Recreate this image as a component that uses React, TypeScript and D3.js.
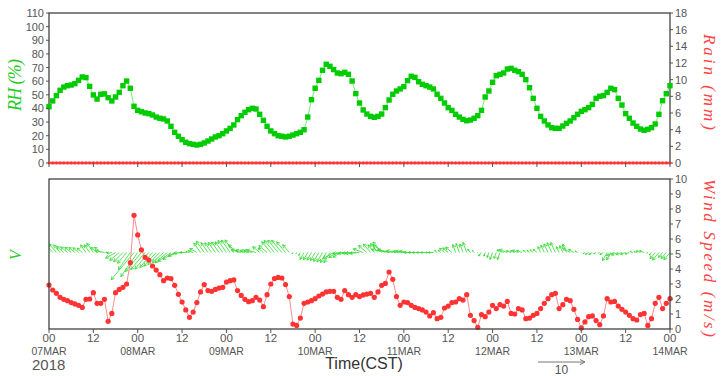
import React from "react";
import * as d3 from "d3";

// ---- data (hourly, 00 07MAR 2018 .. 00 14MAR 2018, CST) ----
const hours: number[] = d3.range(0, 169);

const rh: number[] = [
  41.3, 45.5, 49.4, 53.3, 55.7, 56.7, 57.2, 58.2, 60.6, 63.1, 62.6,
  56.2, 49.9, 46.9, 50.4, 50.7, 47.9, 45.5, 48.4, 51.8, 56.7, 60.1, 54.8,
  41.6, 38.6, 37.6, 36.7, 36.2, 35.2, 33.7, 32.8, 32.3, 30.8, 26.9, 22.5, 19.6,
  17.1, 15.2, 14.2, 13.7, 13.2, 13.7, 14.7, 16.1, 17.6, 19.1, 20.0, 21.5,
  23.5, 25.4, 27.9, 31.8, 34.7, 37.2, 39.1, 40.1, 39.6, 35.7, 31.3, 26.9,
  23.5, 21.5, 20.0, 19.6, 19.1, 19.6, 20.5, 21.5, 22.5, 24.4, 33.7, 46.4,
  54.8, 60.6, 68.0, 72.4, 70.9, 68.5, 66.0, 65.5, 66.5, 65.0, 60.1, 50.9,
  44.0,
  38.9, 35.9, 34.2, 33.5, 34.2, 35.9, 40.6, 46.2, 50.4, 52.8, 54.3, 56.0,
  60.4, 63.6, 62.8, 59.6, 57.7, 56.7, 55.7, 54.3, 50.4, 47.4, 44.0, 40.6,
  38.6, 35.7, 33.7, 32.0, 31.0, 31.5, 32.8, 34.7, 38.6, 48.4, 52.8, 59.2,
  64.0, 65.0, 66.0, 68.9, 69.4, 68.0, 67.0, 65.0, 61.1, 55.2, 47.4, 40.1,
  34.2, 30.8, 27.9, 25.9, 25.4, 25.4, 27.1, 29.1, 30.8, 33.2, 35.7, 37.9,
  39.1, 40.6, 43.0, 47.4, 48.9, 49.4, 51.8, 54.8, 53.8, 47.4, 42.5, 36.2,
  32.8, 29.3, 26.9, 24.9, 24.0, 24.7, 25.9, 28.6, 35.7, 45.7, 50.8, 56.7,
];

const rain: number[] = hours.map(() => 0);

const windSpeed: number[] = [
  2.93, 2.6, 2.38, 2.11, 1.98, 1.89, 1.76, 1.67, 1.58, 1.44, 1.98, 2.0, 2.42, 1.71, 1.71, 1.98, 0.51, 1.04, 2.42, 2.64, 2.78, 3.0,
  4.42, 7.58, 6.27, 5.27, 4.78, 4.6, 4.2, 3.93, 3.62, 3.22, 3.4, 3.36, 2.91, 2.31,
  1.8, 1.27, 0.78, 1.13, 1.76, 2.47, 2.96, 2.56, 2.51, 2.64, 2.73, 2.78,
  3.13, 3.22, 3.27, 2.56, 2.24, 1.98, 1.82, 1.89, 2.11, 1.93, 1.49, 2.29,
  3.0, 3.36, 3.44, 3.4, 2.96, 2.16, 0.33, 0.24, 0.73, 1.71, 1.8, 1.89,
  2.02, 2.2, 2.33, 2.47, 2.51, 2.51, 2.11, 1.98, 2.56, 2.29, 2.11, 2.29,
  2.16, 2.27, 2.33, 2.38, 2.11, 2.47, 2.91, 3.04, 3.8, 3.31, 2.16, 1.58,
  1.8, 1.76, 1.58, 1.44, 1.36, 1.27, 1.13, 0.87, 1.09, 0.69, 0.78, 1.4,
  1.53, 1.76, 1.8, 2.02, 1.93, 2.29, 0.91, 0.56, 0.11, 0.96, 0.82, 1.13,
  1.58, 1.36, 1.62, 1.53, 1.84, 1.04, 1.0, 1.36, 1.27, 0.69, 0.73, 0.91,
  1.04, 1.36, 1.71, 2.02, 2.29, 2.38, 1.36, 1.62, 1.98, 1.89, 1.31, 0.64,
  0.07, 0.47, 0.82, 0.87, 0.56, 0.29, 0.87, 2.02, 1.8, 1.84, 1.53, 1.31,
  1.13, 0.91, 0.69, 0.6, 0.96, 1.04, 0.24, 0.69, 1.71, 2.11, 1.36, 1.71, 2.02,
];

// wind direction (degrees, meteorological "from")
const windDir: number[] = [
  140, 140, 140, 140, 130, 130, 130, 130, 130, 130, 145, 145, 145, 130, 130,
  100, 90, 80, 60, 50, 45, 40, 35, 40, 35, 40, 40, 40, 40, 42, 45, 48, 50, 55, 60, 70, 85, 90, 100, 110,
  120, 145, 145, 145, 145, 145, 145, 145, 145, 145, 145,
  130, 105, 105, 105, 105, 105, 130, 130, 130,
  140, 140, 140, 140, 140, 140,
  30, 30, 30, 30, 30, 30, 30, 30, 30, 30, 30,
  60, 60, 60, 85, 85, 85, 85, 85,
  110, 130, 140, 140, 140, 140, 120,
  100, 100, 100, 100, 100, 100, 90, 90, 90, 90, 90, 90, 90,
  130, 130, 130, 130, 130, 160, 160, 160, 160, 140, 140,
  40, 40, 20, 20, 20, 20, 20,
  110, 110, 110, 110, 110, 110, 130, 130, 130, 130,
  155, 155, 155, 155, 155, 155, 155, 155, 120, 120, 120,
  60, 60, 60, 60, 60, 60, 60, 30, 30,
  70, 70, 70, 70, 70, 110, 110, 110, 110, 60,
  40, 40, 40, 40, 40, 40,
];

const xTicks: number[] = [0, 12, 24, 36, 48, 60, 72, 84, 96, 108, 120, 132, 144, 156, 168];
const xHourLabels: string[] = ["00", "12", "00", "12", "00", "12", "00", "12", "00", "12", "00", "12", "00", "12", "00"];
const xDayLabels: string[] = ["07MAR", "", "08MAR", "", "09MAR", "", "10MAR", "", "11MAR", "", "12MAR", "", "13MAR", "", "14MAR"];
const rhTicks: number[] = d3.range(0, 111, 10);
const rainTicks: number[] = d3.range(0, 19, 2);
const wsTicks: number[] = d3.range(0, 11, 1);
const vecRefSpeed = 10;

// ---- layout ----
const W = 726, H = 376;
const L = 49, R = 670;
const T1 = 13, B1 = 163;
const T2 = 179, B2 = 329;
const VEC_BASE = 5.1; // baseline of the vector sticks, in wind-speed units
const REF_PX = 47; // pixel length of the reference vector

const tickColor = "#555";
const frameColor = "#333";
const sans = "'Liberation Sans', Arial, sans-serif";
const serif = "'Liberation Serif', 'Times New Roman', serif";

export default function App() {
  const x = d3.scaleLinear().domain([0, 168]).range([L, R]);
  const yRH = d3.scaleLinear().domain([0, 110]).range([B1, T1]);
  const yRain = d3.scaleLinear().domain([0, 18]).range([B1, T1]);
  const yWS = d3.scaleLinear().domain([0, 10]).range([B2, T2]);
  const k = REF_PX / vecRefSpeed;

  const rhLine = d3.line<number>().x((_, i) => x(hours[i])).y((d) => yRH(d))(rh) || "";
  const rainLine = d3.line<number>().x((_, i) => x(hours[i])).y((d) => yRain(d))(rain) || "";
  const wsLine = d3.line<number>().x((_, i) => x(hours[i])).y((d) => yWS(d))(windSpeed) || "";

  const yb = yWS(VEC_BASE);
  const vectors = hours.map((h, i) => {
    const s = windSpeed[i];
    const rad = (windDir[i] * Math.PI) / 180;
    const u = -s * Math.sin(rad);
    const v = -s * Math.cos(rad);
    const x0 = x(h);
    const x1 = x0 + u * k;
    const y1 = yb - v * k;
    const len = Math.hypot(x1 - x0, y1 - yb);
    const ang = Math.atan2(y1 - yb, x1 - x0);
    const hl = Math.min(3.5, len * 0.4);
    const a1 = ang + Math.PI - 0.5;
    const a2 = ang + Math.PI + 0.5;
    const d = `M${x0},${yb}L${x1},${y1}M${x1 + hl * Math.cos(a1)},${y1 + hl * Math.sin(a1)}L${x1},${y1}L${x1 + hl * Math.cos(a2)},${y1 + hl * Math.sin(a2)}`;
    return d;
  });

  const refY = 362, refX0 = 538;

  return (
    <svg width={W} height={H} style={{ position: "absolute", left: 0, top: 0, background: "#fff" }} fontFamily={sans}>
      <defs>
        <clipPath id="clip2">
          <rect x={L} y={T2} width={R - L} height={B2 - T2} />
        </clipPath>
      </defs>
      <rect x={0} y={0} width={W} height={H} fill="#fff" />

      {/* ---------- top panel ---------- */}
      <rect x={L} y={T1} width={R - L} height={B1 - T1} fill="none" stroke={frameColor} strokeWidth={1.2} />
      <path d={rhLine} fill="none" stroke="#7ae87a" strokeWidth={1} />
      {rh.map((d, i) => (
        <rect key={"rh" + i} x={x(hours[i]) - 2.7} y={yRH(d) - 2.7} width={5.4} height={5.4} fill="#00cc00" />
      ))}
      <path d={rainLine} fill="none" stroke="#ff4d4d" strokeWidth={2.4} />
      {rain.map((d, i) => (
        <circle key={"rn" + i} cx={x(hours[i])} cy={yRain(d)} r={1.4} fill="#ff3030" />
      ))}
      {rhTicks.map((t) => (
        <g key={"rt" + t}>
          <line x1={L - 3} x2={L} y1={yRH(t)} y2={yRH(t)} stroke={tickColor} />
          <text x={L - 5} y={yRH(t) + 4} fontSize={11} fill={tickColor} textAnchor="end">{t}</text>
        </g>
      ))}
      {rainTicks.map((t) => (
        <g key={"rr" + t}>
          <line x1={R} x2={R + 3} y1={yRain(t)} y2={yRain(t)} stroke={tickColor} />
          <text x={R + 5} y={yRain(t) + 4} fontSize={11} fill={tickColor}>{t}</text>
        </g>
      ))}
      {xTicks.map((t) => (
        <line key={"xt1" + t} x1={x(t)} x2={x(t)} y1={B1} y2={B1 + 4} stroke={tickColor} />
      ))}
      <text transform={`translate(21,${(T1 + B1) / 2 - 3}) rotate(-90)`} fontSize={18} fontFamily={serif} fontStyle="italic" fill="#22cc22" textAnchor="middle" textLength={52} lengthAdjust="spacing">RH  (%)</text>
      <text transform={`translate(704,${(T1 + B1) / 2 - 6}) rotate(90)`} fontSize={17} fontFamily={serif} fontStyle="italic" fill="#ff4444" textAnchor="middle" textLength={96} lengthAdjust="spacing">Rain  (mm)</text>

      {/* ---------- bottom panel ---------- */}
      <g clipPath="url(#clip2)">
        {vectors.map((d, i) => (
          <path key={"v" + i} d={d} fill="none" stroke="#2ed82e" strokeWidth={0.8} />
        ))}
      </g>
      <path d={wsLine} fill="none" stroke="#ff8a8a" strokeWidth={1} />
      {windSpeed.map((d, i) => (
        <circle key={"ws" + i} cx={x(hours[i])} cy={yWS(d)} r={2.6} fill="#ff3333" />
      ))}
      <rect x={L} y={T2} width={R - L} height={B2 - T2} fill="none" stroke={frameColor} strokeWidth={1.2} />
      {wsTicks.map((t) => (
        <g key={"wt" + t}>
          <line x1={R} x2={R + 3} y1={yWS(t)} y2={yWS(t)} stroke={tickColor} />
          <text x={R + 5} y={yWS(t) + 4} fontSize={11} fill={tickColor}>{t}</text>
        </g>
      ))}
      {xTicks.map((t, i) => (
        <g key={"xt2" + t}>
          <line x1={x(t)} x2={x(t)} y1={B2} y2={B2 + 4} stroke={tickColor} />
          <text x={x(t)} y={342} fontSize={11.5} fill={tickColor} textAnchor="middle">{xHourLabels[i]}</text>
          {xDayLabels[i] ? (
            <text x={x(t)} y={355} fontSize={10.5} fill={tickColor} textAnchor="middle">{xDayLabels[i]}</text>
          ) : null}
        </g>
      ))}
      <text x={32} y={370} fontSize={15} fill={tickColor}>2018</text>
      <text x={364} y={369} fontSize={16} fill="#333" textAnchor="middle">Time(CST)</text>
      <text transform={`translate(21,255) rotate(-90)`} fontSize={16} fontFamily={serif} fontStyle="italic" fill="#22cc22" textAnchor="middle">V</text>
      <text transform={`translate(704,258) rotate(90)`} fontSize={17} fontFamily={serif} fontStyle="italic" fill="#ff4444" textAnchor="middle" textLength={158} lengthAdjust="spacing">Wind  Speed  (m/s)</text>

      {/* reference vector */}
      <line x1={refX0} x2={refX0 + REF_PX} y1={refY} y2={refY} stroke="#777" strokeWidth={1} />
      <path d={`M${refX0 + REF_PX - 5},${refY - 2.5}L${refX0 + REF_PX},${refY}L${refX0 + REF_PX - 5},${refY + 2.5}`} fill="none" stroke="#777" />
      <text x={refX0 + REF_PX / 2} y={374} fontSize={12} fill="#555" textAnchor="middle">{vecRefSpeed}</text>
    </svg>
  );
}
